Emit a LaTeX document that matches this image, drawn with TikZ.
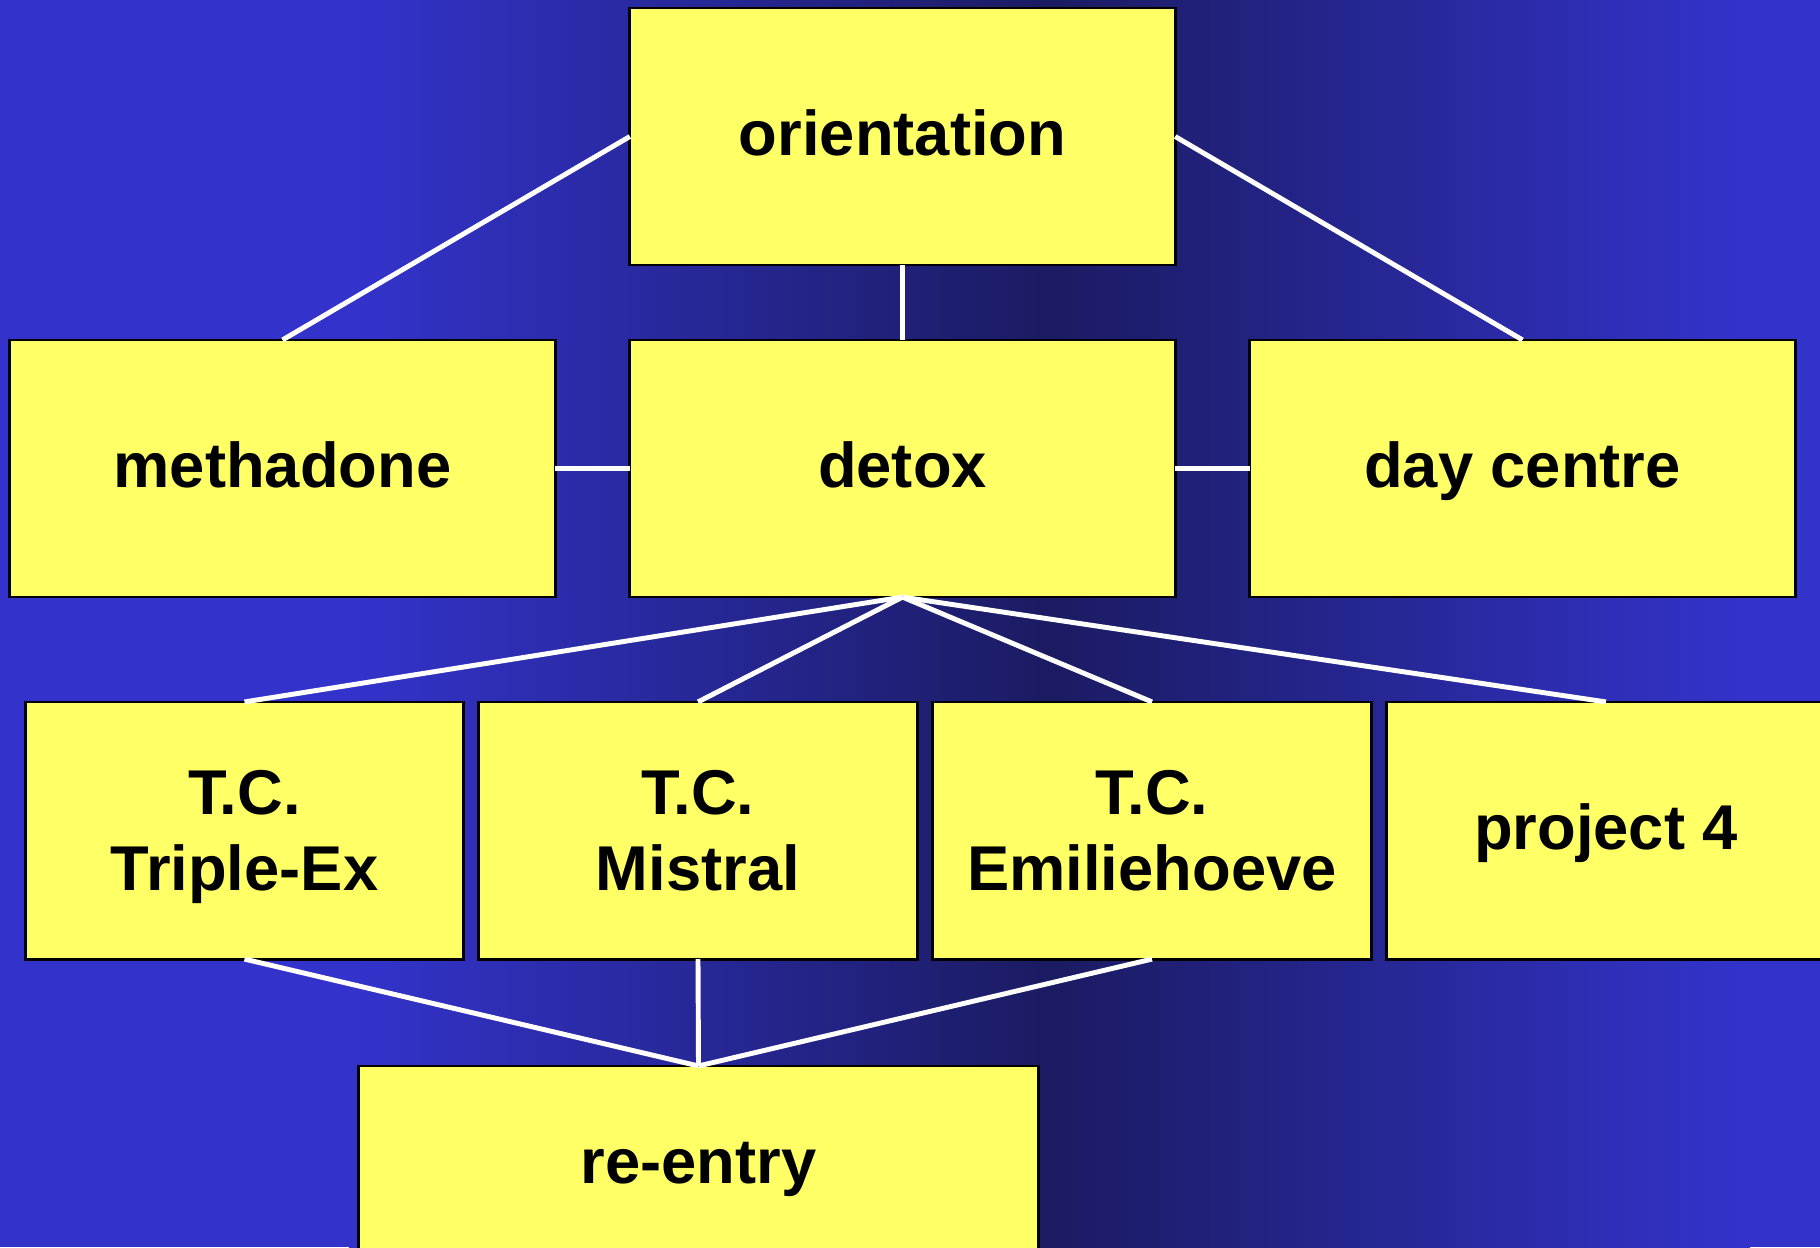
\documentclass[tikz,border=0pt]{standalone}
\usepackage{fontspec}
\setmainfont{Liberation Sans}
\definecolor{bgblue}{HTML}{3333CC}
\definecolor{bgdark}{HTML}{1B1B62}
\definecolor{boxyellow}{HTML}{FFFF66}
\begin{document}
\begin{tikzpicture}[x=0.01cm,y=-0.01cm,
  box/.style={draw=black,line width=0.8pt,fill=boxyellow,inner sep=0pt,outer sep=0pt,
    minimum height=2.57cm,text height=0.5cm,text depth=0.13cm,align=center,
    font=\fontsize{18}{21.8}\selectfont\bfseries},
  twoline/.style={text height=,text depth=0pt},
  link/.style={draw=white,line width=1.4pt}]
\useasboundingbox (0,0) rectangle (1820,1247);
\fill[bgblue] (0,0) rectangle (350,1247);
\shade[left color=bgblue,right color=bgdark] (349,0) rectangle (1050,1247);
\shade[left color=bgdark,right color=bgblue] (1049,0) rectangle (1750,1247);
\fill[bgblue] (1749,0) rectangle (1820,1247);

\node[box,minimum width=5.45cm] (ori) at (902.5,136.5) {orientation};
\node[box,minimum width=5.45cm] (meth) at (282.5,468.5) {methadone};
\node[box,minimum width=5.45cm] (detox) at (902.5,468.5) {detox};
\node[box,minimum width=5.45cm] (day) at (1522.5,468.5) {day centre};
\node[box,twoline,minimum width=4.38cm] (tcA) at (244.5,830.5) {T.C.\\Triple-Ex};
\node[box,twoline,minimum width=4.38cm] (tcB) at (698,830.5) {T.C.\\Mistral};
\node[box,twoline,minimum width=4.38cm] (tcC) at (1152,830.5) {T.C.\\Emiliehoeve};
\node[box,minimum width=4.38cm] (proj) at (1606,830.5) {project 4};
\node[box,minimum width=6.79cm,minimum height=1.97cm] (reentry) at (698.5,1164.5) {re-entry};

\path[link] (ori.west) -- (meth.north);
\path[link] (ori.east) -- (day.north);
\path[link] (ori.south) -- (detox.north);
\path[link] (meth.east) -- (detox.west);
\path[link] (detox.east) -- (day.west);

\path[link] (detox.south) -- (tcA.north);
\path[link] (detox.south) -- (tcB.north);
\path[link] (detox.south) -- (tcC.north);
\path[link] (detox.south) -- (proj.north);

\path[link] (tcA.south) -- (reentry.north);
\path[link] (tcB.south) -- (reentry.north);
\path[link] (tcC.south) -- (reentry.north);
\end{tikzpicture}
\end{document}
